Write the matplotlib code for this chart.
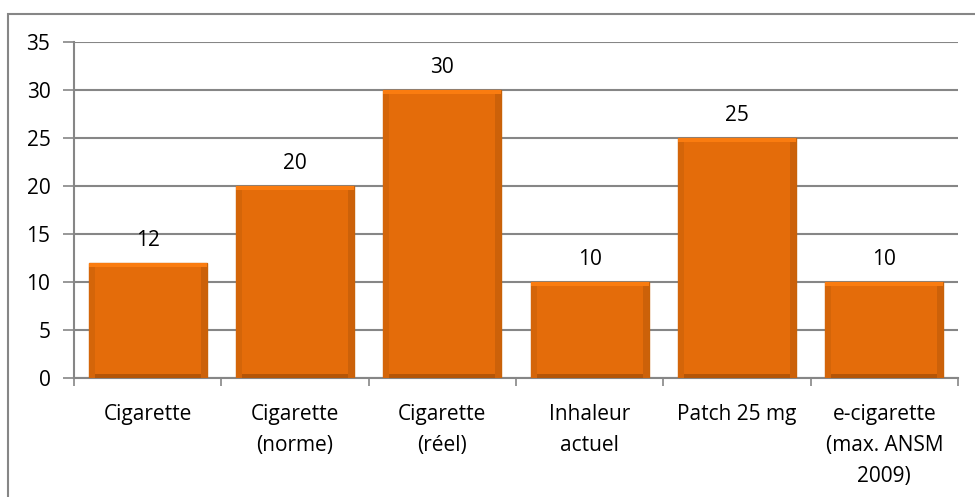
import matplotlib.pyplot as plt
from matplotlib.patches import Rectangle

categories = ['Cigarette', 'Cigarette\n(norme)', 'Cigarette\n(réel)', 'Inhaleur\nactuel',
              'Patch 25 mg', 'e-cigarette\n(max. ANSM\n2009)']
values = [12, 20, 30, 10, 25, 10]
yticks = [0, 5, 10, 15, 20, 25, 30, 35]

plt.rcParams['font.family'] = ['Open Sans', 'DejaVu Sans']

fig = plt.figure(figsize=(9.75, 4.97), dpi=100)
ax = fig.add_axes([74 / 975, 119 / 497, 884 / 975, 336 / 497])

# outer chart border (right and bottom fall outside the image)
fig.patches.append(Rectangle((8 / 975, -0.05), 1.2, (497 - 14) / 497 + 0.05,
                             transform=fig.transFigure, fill=False,
                             edgecolor='#868686', linewidth=1.5))

x = list(range(len(values)))
w = 0.8
side = 0.04
ax.bar(x, values, width=w, color='#E46C0A', edgecolor='#C86208',
       linewidth=1.0, zorder=3)
# bevel look: light top, dark bottom, darker sides
ax.bar(x, [0.4] * len(values), bottom=[v - 0.4 for v in values], width=w,
       color='#FA7C10', linewidth=0, zorder=4)
ax.bar(x, [0.45] * len(values), width=w, color='#B45507', linewidth=0, zorder=4)
ax.bar([i - w / 2 + side / 2 for i in x], [v - 0.4 for v in values], width=side,
       color='#D46509', linewidth=0, zorder=4)
ax.bar([i + w / 2 - side / 2 for i in x], [v - 0.4 for v in values], width=side,
       color='#CC6109', linewidth=0, zorder=4)

for xi, v in zip(x, values):
    ax.text(xi, v + 1.25, str(v), ha='center', va='bottom', fontsize=15,
            color='#000000')

ax.set_ylim(0, 35)
ax.set_xlim(-0.5, len(values) - 0.5)
ax.set_yticks(yticks)
ax.set_xticks([i + 0.5 for i in range(-1, len(values))], minor=True)
ax.set_xticks(x)
ax.set_xticklabels(categories, fontsize=15, linespacing=1.62)
ax.tick_params(axis='x', which='major', length=0, pad=19)
ax.tick_params(axis='x', which='minor', length=6, color='#868686', width=1.2)
ax.tick_params(axis='y', length=8, color='#868686', width=1.2, labelsize=15, pad=9)

ax.grid(axis='y', color='#868686', linewidth=1.5, zorder=0)
ax.set_axisbelow(True)
for s in ['top', 'right']:
    ax.spines[s].set_visible(False)
for s in ['left', 'bottom']:
    ax.spines[s].set_color('#868686')
    ax.spines[s].set_linewidth(1.5)

fig.savefig('out.png', dpi=100)
